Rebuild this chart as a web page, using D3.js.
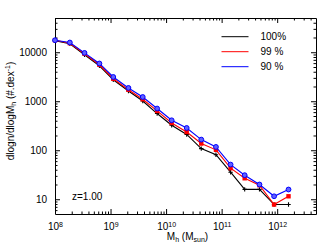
<!DOCTYPE html>
<html>
<head>
<meta charset="utf-8">
<script src="https://cdn.jsdelivr.net/npm/d3@7"></script>
<style>
  body { margin: 0; background: #fff; }
  svg { font-family: "Liberation Sans", Arial, sans-serif; }
  .axis .domain { stroke: #000; }
  .axis line { stroke: #000; }
  .axis text { font-size: 10px; fill: #000; }
</style>
</head>
<body>
<svg width="332" height="250"></svg>
<script>
  // halo mass bin centres (Msun)
  const mass = [1.0e8, 1.85e8, 3.4e8, 6.3e8, 1.12e9, 2.1e9, 3.8e9, 6.9e9, 1.26e10,
                2.35e10, 4.3e10, 7.9e10, 1.45e11, 2.6e11, 4.8e11, 8.8e11, 1.6e12];
  const all100 = [17200, 14900, 8890, 5300, 2750, 1620, 1010, 561, 324,
                  210, 108, 81, 35.6, 15.9, 15.9, 7.8, 7.8];
  const all99 = [17600, 15300, 9320, 5560, 2880, 1720, 1100, 634, 361,
                 236, 137, 102, 43, 26.8, 19.3, 7.8, 11.5];
  const all90 = [17600, 15800, 9700, 5900, 3130, 1870, 1220, 710, 409,
                 285, 165, 117, 51, 31, 20, 11.5, 15.8];
  const seriesNames = ['100%', '99 %', '90 %'];
  const seriesColors = ['#000000', '#ff0000', '#0000ff'];
  const yTickValues = [10, 100, 1000, 10000];
  const xTickValues = [1e8, 1e9, 1e10, 1e11, 1e12];

  const svg = d3.select('svg');
  const margin = { top: 18, right: 16, bottom: 36, left: 55 };
  const width = +svg.attr('width');
  const height = +svg.attr('height');
  const innerWidth = width - margin.left - margin.right;
  const innerHeight = height - margin.top - margin.bottom;

  const xScale = d3.scaleLog().domain([1e8, 5e12]).range([0, innerWidth]);
  const yScale = d3.scaleLog().domain([5, 5e4]).range([innerHeight, 0]);

  const g = svg.append('g')
    .attr('transform', `translate(${margin.left},${margin.top})`);

  // minor ticks 2..9 in each decade
  const minors = (lo, hi) => {
    const out = [];
    for (let e = Math.floor(Math.log10(lo)); e <= Math.ceil(Math.log10(hi)); e++) {
      for (let m = 2; m <= 9; m++) {
        const v = m * Math.pow(10, e);
        if (v > lo && v < hi) out.push(v);
      }
    }
    return out;
  };
  const xMinor = minors(1e8, 5e12);
  const yMinor = minors(5, 5e4);

  const major = 5, minor = 2.5;

  // tick-only axis (no labels)
  const ticksOnly = (axis, transform, keepDomain) => {
    const a = g.append('g').attr('class', 'axis');
    if (transform) a.attr('transform', transform);
    a.call(axis.tickFormat('').tickSizeOuter(0));
    a.selectAll('.tick text').remove();
    if (!keepDomain) a.select('.domain').remove();
    return a;
  };

  // bottom axis
  const xAxisG = g.append('g').attr('class', 'axis')
    .attr('transform', `translate(0,${innerHeight})`)
    .call(d3.axisBottom(xScale).tickValues(xTickValues).tickSize(-major).tickPadding(9)
      .tickSizeOuter(0));
  xAxisG.selectAll('.tick text')
    .text('10')
    .append('tspan')
      .attr('dy', '-0.45em')
      .attr('font-size', '7px')
      .text(d => Math.round(Math.log10(d)));
  ticksOnly(d3.axisBottom(xScale).tickValues(xMinor).tickSize(-minor), `translate(0,${innerHeight})`);

  // top axis
  ticksOnly(d3.axisTop(xScale).tickValues(xTickValues).tickSize(-major), null, true);
  ticksOnly(d3.axisTop(xScale).tickValues(xMinor).tickSize(-minor), null);

  // left axis
  g.append('g').attr('class', 'axis')
    .call(d3.axisLeft(yScale).tickValues(yTickValues).tickSize(-major).tickPadding(8)
      .tickFormat(d3.format('d')).tickSizeOuter(0));
  ticksOnly(d3.axisLeft(yScale).tickValues(yMinor).tickSize(-minor), null);

  // right axis
  ticksOnly(d3.axisRight(yScale).tickValues(yTickValues).tickSize(-major), `translate(${innerWidth},0)`, true);
  ticksOnly(d3.axisRight(yScale).tickValues(yMinor).tickSize(-minor), `translate(${innerWidth},0)`);

  // series
  const seriesData = [all100, all99, all90];
  const line = d3.line()
    .x((d, i) => xScale(mass[i]))
    .y(d => yScale(d));

  seriesData.forEach((vals, s) => {
    const col = seriesColors[s];
    g.append('path')
      .datum(vals)
      .attr('fill', 'none')
      .attr('stroke', col)
      .attr('stroke-width', 1.1)
      .attr('d', line);

    const pts = g.append('g').selectAll('g').data(vals).enter().append('g')
      .attr('transform', (d, i) => `translate(${xScale(mass[i])},${yScale(d)})`);
    if (s === 0) {
      pts.append('path').attr('d', 'M-2.2,0H2.2M0,-2.2V2.2')
        .attr('stroke', col).attr('stroke-width', 1.1);
    } else if (s === 1) {
      pts.append('rect').attr('x', -2.2).attr('y', -2.2).attr('width', 4.4).attr('height', 4.4)
        .attr('fill', col);
    } else {
      pts.append('circle').attr('r', 2.4)
        .attr('fill', '#6060ff').attr('stroke', col).attr('stroke-width', 1);
    }
  });

  // legend
  const legend = svg.append('g');
  seriesNames.forEach((name, i) => {
    const y = 36.7 + i * 15;
    legend.append('line')
      .attr('x1', 221.5).attr('x2', 248.5).attr('y1', y).attr('y2', y)
      .attr('stroke', seriesColors[i]).attr('stroke-width', 1);
    legend.append('text')
      .attr('x', 260.5).attr('y', y + 3.5)
      .attr('font-size', '10px')
      .text(name);
  });

  // redshift label
  svg.append('text')
    .attr('x', 72).attr('y', 200)
    .attr('font-size', '10px')
    .text('z=1.00');

  // x axis label
  const xl = svg.append('text')
    .attr('x', margin.left + innerWidth / 2 + 2).attr('y', 240)
    .attr('text-anchor', 'middle')
    .attr('font-size', '10px');
  xl.append('tspan').text('M');
  xl.append('tspan').attr('font-size', '7px').attr('dy', '2').text('h');
  xl.append('tspan').attr('dy', '-2').text(' (M');
  xl.append('tspan').attr('font-size', '7px').attr('dy', '2').text('sun');
  xl.append('tspan').attr('dy', '-2').text(')');

  // y axis label
  const yl = svg.append('text')
    .attr('transform', 'translate(14,111) rotate(-90)')
    .attr('text-anchor', 'middle')
    .attr('font-size', '10px');
  yl.append('tspan').text('dlogn/dlogM');
  yl.append('tspan').attr('font-size', '7px').attr('dy', '2').text('h');
  yl.append('tspan').attr('dy', '-2').text(' (#.dex');
  yl.append('tspan').attr('font-size', '7px').attr('dy', '-4').text('-1');
  yl.append('tspan').attr('dy', '4').text(')');
</script>
</body>
</html>
